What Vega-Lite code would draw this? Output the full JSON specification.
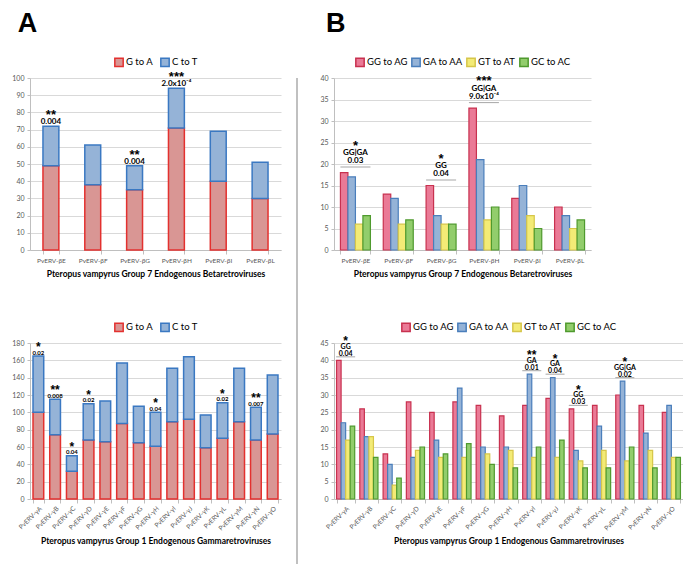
{
  "$schema": "https://vega.github.io/schema/vega-lite/v6.json",
  "background": "white",
  "padding": {"left": 11, "top": 0, "right": 0, "bottom": 0},
  "config": {
    "font": "Lato",
    "view": {"stroke": null},
    "axis": {"labelFont": "Lato", "titleFont": "Lato", "labelColor": "#595959", "titleColor": "#000000", "domainColor": "#bfbfbf", "tickColor": "#bfbfbf", "gridColor": "#d9d9d9"},
    "axisY": {"grid": true, "labelOverlap": false, "labelFontSize": 7, "tickSize": 3, "titlePadding": 3, "labelPadding": 3, "titleFontSize": 10, "titleFontWeight": "bold", "title": "Total mutations"},
    "axisX": {"grid": false, "labelFontSize": 6.5, "tickBand": "extent", "tickSize": 4, "titleFontSize": 8.5, "titleFontWeight": "bold", "labelOverlap": false},
    "legend": {"orient": "top", "direction": "horizontal", "labelFont": "Lato", "labelFontSize": 9.5, "labelColor": "#000000", "symbolType": "square", "symbolSize": 70, "symbolStrokeWidth": 1.5, "columnPadding": 0, "labelOffset": 2, "offset": 8, "title": null, "layout": {"top": {"anchor": "middle"}}},
    "title": {"font": "Liberation Sans", "fontSize": 27, "fontWeight": "bold", "anchor": "start", "color": "#000000", "lineHeight": 10}
  },
  "datasets": {
    "betaA": [
      {"virus": "PvERV-βE", "type": "G to A", "count": 49}, {"virus": "PvERV-βE", "type": "C to T", "count": 23},
      {"virus": "PvERV-βF", "type": "G to A", "count": 38}, {"virus": "PvERV-βF", "type": "C to T", "count": 23},
      {"virus": "PvERV-βG", "type": "G to A", "count": 35}, {"virus": "PvERV-βG", "type": "C to T", "count": 14},
      {"virus": "PvERV-βH", "type": "G to A", "count": 71}, {"virus": "PvERV-βH", "type": "C to T", "count": 23},
      {"virus": "PvERV-βI", "type": "G to A", "count": 40}, {"virus": "PvERV-βI", "type": "C to T", "count": 29},
      {"virus": "PvERV-βL", "type": "G to A", "count": 30}, {"virus": "PvERV-βL", "type": "C to T", "count": 21}
    ],
    "betaAnnA": [
      {"virus": "PvERV-βE", "stars": "**", "p": "0.004", "count": 72},
      {"virus": "PvERV-βG", "stars": "**", "p": "0.004", "count": 49},
      {"virus": "PvERV-βH", "stars": "***", "p": "2.0x10⁻⁴", "count": 94}
    ],
    "gammaA": [
      {"virus": "PvERV-γA", "type": "G to A", "count": 100}, {"virus": "PvERV-γA", "type": "C to T", "count": 65},
      {"virus": "PvERV-γB", "type": "G to A", "count": 74}, {"virus": "PvERV-γB", "type": "C to T", "count": 41},
      {"virus": "PvERV-γC", "type": "G to A", "count": 32}, {"virus": "PvERV-γC", "type": "C to T", "count": 18},
      {"virus": "PvERV-γD", "type": "G to A", "count": 68}, {"virus": "PvERV-γD", "type": "C to T", "count": 42},
      {"virus": "PvERV-γE", "type": "G to A", "count": 66}, {"virus": "PvERV-γE", "type": "C to T", "count": 47},
      {"virus": "PvERV-γF", "type": "G to A", "count": 87}, {"virus": "PvERV-γF", "type": "C to T", "count": 70},
      {"virus": "PvERV-γG", "type": "G to A", "count": 65}, {"virus": "PvERV-γG", "type": "C to T", "count": 42},
      {"virus": "PvERV-γH", "type": "G to A", "count": 61}, {"virus": "PvERV-γH", "type": "C to T", "count": 39},
      {"virus": "PvERV-γI", "type": "G to A", "count": 89}, {"virus": "PvERV-γI", "type": "C to T", "count": 62},
      {"virus": "PvERV-γJ", "type": "G to A", "count": 92}, {"virus": "PvERV-γJ", "type": "C to T", "count": 72},
      {"virus": "PvERV-γK", "type": "G to A", "count": 59}, {"virus": "PvERV-γK", "type": "C to T", "count": 38},
      {"virus": "PvERV-γL", "type": "G to A", "count": 70}, {"virus": "PvERV-γL", "type": "C to T", "count": 41},
      {"virus": "PvERV-γM", "type": "G to A", "count": 89}, {"virus": "PvERV-γM", "type": "C to T", "count": 62},
      {"virus": "PvERV-γN", "type": "G to A", "count": 68}, {"virus": "PvERV-γN", "type": "C to T", "count": 38},
      {"virus": "PvERV-γO", "type": "G to A", "count": 75}, {"virus": "PvERV-γO", "type": "C to T", "count": 68}
    ],
    "gammaAnnA": [
      {"virus": "PvERV-γA", "stars": "*", "p": "0.02", "count": 165},
      {"virus": "PvERV-γB", "stars": "**", "p": "0.008", "count": 115},
      {"virus": "PvERV-γC", "stars": "*", "p": "0.04", "count": 50},
      {"virus": "PvERV-γD", "stars": "*", "p": "0.02", "count": 110},
      {"virus": "PvERV-γH", "stars": "*", "p": "0.04", "count": 100},
      {"virus": "PvERV-γL", "stars": "*", "p": "0.02", "count": 111},
      {"virus": "PvERV-γN", "stars": "**", "p": "0.007", "count": 106}
    ],
    "betaB": [
      {"virus": "PvERV-βE", "mutation": "GG to AG", "count": 18}, {"virus": "PvERV-βE", "mutation": "GA to AA", "count": 17}, {"virus": "PvERV-βE", "mutation": "GT to AT", "count": 6}, {"virus": "PvERV-βE", "mutation": "GC to AC", "count": 8},
      {"virus": "PvERV-βF", "mutation": "GG to AG", "count": 13}, {"virus": "PvERV-βF", "mutation": "GA to AA", "count": 12}, {"virus": "PvERV-βF", "mutation": "GT to AT", "count": 6}, {"virus": "PvERV-βF", "mutation": "GC to AC", "count": 7},
      {"virus": "PvERV-βG", "mutation": "GG to AG", "count": 15}, {"virus": "PvERV-βG", "mutation": "GA to AA", "count": 8}, {"virus": "PvERV-βG", "mutation": "GT to AT", "count": 6}, {"virus": "PvERV-βG", "mutation": "GC to AC", "count": 6},
      {"virus": "PvERV-βH", "mutation": "GG to AG", "count": 33}, {"virus": "PvERV-βH", "mutation": "GA to AA", "count": 21}, {"virus": "PvERV-βH", "mutation": "GT to AT", "count": 7}, {"virus": "PvERV-βH", "mutation": "GC to AC", "count": 10},
      {"virus": "PvERV-βI", "mutation": "GG to AG", "count": 12}, {"virus": "PvERV-βI", "mutation": "GA to AA", "count": 15}, {"virus": "PvERV-βI", "mutation": "GT to AT", "count": 8}, {"virus": "PvERV-βI", "mutation": "GC to AC", "count": 5},
      {"virus": "PvERV-βL", "mutation": "GG to AG", "count": 10}, {"virus": "PvERV-βL", "mutation": "GA to AA", "count": 8}, {"virus": "PvERV-βL", "mutation": "GT to AT", "count": 5}, {"virus": "PvERV-βL", "mutation": "GC to AC", "count": 7}
    ],
    "betaAnnB": [
      {"virus": "PvERV-βE", "stars": "*", "label": "GG|GA", "p": "0.03", "count": 18},
      {"virus": "PvERV-βG", "stars": "*", "label": "GG", "p": "0.04", "count": 15},
      {"virus": "PvERV-βH", "stars": "***", "label": "GG|GA", "p": "9.0x10⁻⁴", "count": 33}
    ],
    "gammaB": [
      {"virus": "PvERV-γA", "mutation": "GG to AG", "count": 40}, {"virus": "PvERV-γA", "mutation": "GA to AA", "count": 22}, {"virus": "PvERV-γA", "mutation": "GT to AT", "count": 17}, {"virus": "PvERV-γA", "mutation": "GC to AC", "count": 21},
      {"virus": "PvERV-γB", "mutation": "GG to AG", "count": 26}, {"virus": "PvERV-γB", "mutation": "GA to AA", "count": 18}, {"virus": "PvERV-γB", "mutation": "GT to AT", "count": 18}, {"virus": "PvERV-γB", "mutation": "GC to AC", "count": 12},
      {"virus": "PvERV-γC", "mutation": "GG to AG", "count": 13}, {"virus": "PvERV-γC", "mutation": "GA to AA", "count": 10}, {"virus": "PvERV-γC", "mutation": "GT to AT", "count": 4}, {"virus": "PvERV-γC", "mutation": "GC to AC", "count": 6},
      {"virus": "PvERV-γD", "mutation": "GG to AG", "count": 28}, {"virus": "PvERV-γD", "mutation": "GA to AA", "count": 12}, {"virus": "PvERV-γD", "mutation": "GT to AT", "count": 14}, {"virus": "PvERV-γD", "mutation": "GC to AC", "count": 15},
      {"virus": "PvERV-γE", "mutation": "GG to AG", "count": 25}, {"virus": "PvERV-γE", "mutation": "GA to AA", "count": 17}, {"virus": "PvERV-γE", "mutation": "GT to AT", "count": 12}, {"virus": "PvERV-γE", "mutation": "GC to AC", "count": 13},
      {"virus": "PvERV-γF", "mutation": "GG to AG", "count": 28}, {"virus": "PvERV-γF", "mutation": "GA to AA", "count": 32}, {"virus": "PvERV-γF", "mutation": "GT to AT", "count": 12}, {"virus": "PvERV-γF", "mutation": "GC to AC", "count": 16},
      {"virus": "PvERV-γG", "mutation": "GG to AG", "count": 27}, {"virus": "PvERV-γG", "mutation": "GA to AA", "count": 15}, {"virus": "PvERV-γG", "mutation": "GT to AT", "count": 13}, {"virus": "PvERV-γG", "mutation": "GC to AC", "count": 10},
      {"virus": "PvERV-γH", "mutation": "GG to AG", "count": 24}, {"virus": "PvERV-γH", "mutation": "GA to AA", "count": 15}, {"virus": "PvERV-γH", "mutation": "GT to AT", "count": 14}, {"virus": "PvERV-γH", "mutation": "GC to AC", "count": 9},
      {"virus": "PvERV-γI", "mutation": "GG to AG", "count": 27}, {"virus": "PvERV-γI", "mutation": "GA to AA", "count": 36}, {"virus": "PvERV-γI", "mutation": "GT to AT", "count": 12}, {"virus": "PvERV-γI", "mutation": "GC to AC", "count": 15},
      {"virus": "PvERV-γJ", "mutation": "GG to AG", "count": 29}, {"virus": "PvERV-γJ", "mutation": "GA to AA", "count": 35}, {"virus": "PvERV-γJ", "mutation": "GT to AT", "count": 12}, {"virus": "PvERV-γJ", "mutation": "GC to AC", "count": 17},
      {"virus": "PvERV-γK", "mutation": "GG to AG", "count": 26}, {"virus": "PvERV-γK", "mutation": "GA to AA", "count": 14}, {"virus": "PvERV-γK", "mutation": "GT to AT", "count": 11}, {"virus": "PvERV-γK", "mutation": "GC to AC", "count": 9},
      {"virus": "PvERV-γL", "mutation": "GG to AG", "count": 27}, {"virus": "PvERV-γL", "mutation": "GA to AA", "count": 21}, {"virus": "PvERV-γL", "mutation": "GT to AT", "count": 14}, {"virus": "PvERV-γL", "mutation": "GC to AC", "count": 9},
      {"virus": "PvERV-γM", "mutation": "GG to AG", "count": 30}, {"virus": "PvERV-γM", "mutation": "GA to AA", "count": 34}, {"virus": "PvERV-γM", "mutation": "GT to AT", "count": 11}, {"virus": "PvERV-γM", "mutation": "GC to AC", "count": 15},
      {"virus": "PvERV-γN", "mutation": "GG to AG", "count": 27}, {"virus": "PvERV-γN", "mutation": "GA to AA", "count": 19}, {"virus": "PvERV-γN", "mutation": "GT to AT", "count": 14}, {"virus": "PvERV-γN", "mutation": "GC to AC", "count": 9},
      {"virus": "PvERV-γO", "mutation": "GG to AG", "count": 25}, {"virus": "PvERV-γO", "mutation": "GA to AA", "count": 27}, {"virus": "PvERV-γO", "mutation": "GT to AT", "count": 12}, {"virus": "PvERV-γO", "mutation": "GC to AC", "count": 12}
    ],
    "gammaAnnB": [
      {"virus": "PvERV-γA", "stars": "*", "label": "GG", "p": "0.04", "count": 40},
      {"virus": "PvERV-γI", "stars": "**", "label": "GA", "p": "0.01", "count": 36},
      {"virus": "PvERV-γJ", "stars": "*", "label": "GA", "p": "0.04", "count": 35},
      {"virus": "PvERV-γK", "stars": "*", "label": "GG", "p": "0.03", "count": 26},
      {"virus": "PvERV-γM", "stars": "*", "label": "GG|GA", "p": "0.02", "count": 34}
    ],
    "sep": [{"s": 1}]
  },
  "spacing": 15,
  "hconcat": [
    {
      "title": {"text": ["", "A"], "dx": 6, "offset": 19},
      "spacing": 44,
      "resolve": {"scale": {"fill": "independent", "stroke": "independent", "x": "independent", "y": "independent"}, "legend": {"fill": "independent", "stroke": "independent"}},
      "vconcat": [
        {
          "width": 251, "height": 172,
          "encoding": {
            "x": {"field": "virus", "type": "nominal", "scale": {"domain": ["PvERV-βE", "PvERV-βF", "PvERV-βG", "PvERV-βH", "PvERV-βI", "PvERV-βL"], "paddingInner": 0.62, "paddingOuter": 0.31},
              "axis": {"title": "Pteropus vampyrus Group 7 Endogenous Betaretroviruses", "labelAngle": 0, "labelPadding": 3, "titlePadding": 6}},
            "y": {"field": "count", "type": "quantitative", "scale": {"domain": [0, 100]},
              "axis": {"values": [0, 10, 20, 30, 40, 50, 60, 70, 80, 90, 100]}}
          },
          "layer": [
            {
              "data": {"name": "betaA"},
              "mark": {"type": "bar", "strokeWidth": 1.5},
              "encoding": {
                "fill": {"field": "type", "type": "nominal", "scale": {"domain": ["G to A", "C to T"], "range": ["#d99694", "#95b3d7"]}, "legend": {"columnPadding": 3}},
                "stroke": {"field": "type", "type": "nominal", "scale": {"domain": ["G to A", "C to T"], "range": ["#e3312f", "#3a78c2"]}, "legend": {"columnPadding": 3}},
                "order": {"field": "type", "sort": "descending"}
              }
            },
            {
              "data": {"name": "betaAnnA"},
              "mark": {"type": "text", "font": "Liberation Sans", "fontWeight": "bold", "fontSize": 13, "dy": -7, "baseline": "alphabetic"},
              "encoding": {"text": {"field": "stars"}}
            },
            {
              "data": {"name": "betaAnnA"},
              "mark": {"type": "text", "font": "Lato", "fontWeight": "bold", "fontSize": 8, "dy": -2, "baseline": "alphabetic"},
              "encoding": {"text": {"field": "p"}}
            }
          ]
        },
        {
          "width": 251, "height": 156,
          "encoding": {
            "x": {"field": "virus", "type": "nominal", "scale": {"domain": ["PvERV-γA", "PvERV-γB", "PvERV-γC", "PvERV-γD", "PvERV-γE", "PvERV-γF", "PvERV-γG", "PvERV-γH", "PvERV-γI", "PvERV-γJ", "PvERV-γK", "PvERV-γL", "PvERV-γM", "PvERV-γN", "PvERV-γO"], "paddingInner": 0.36, "paddingOuter": 0.18},
              "axis": {"title": "Pteropus vampyrus Group 1 Endogenous Gammaretroviruses", "labelAngle": -45, "labelPadding": 2, "titlePadding": 5}},
            "y": {"field": "count", "type": "quantitative", "scale": {"domain": [0, 180]},
              "axis": {"values": [0, 20, 40, 60, 80, 100, 120, 140, 160, 180]}}
          },
          "layer": [
            {
              "data": {"name": "gammaA"},
              "mark": {"type": "bar", "strokeWidth": 1.5},
              "encoding": {
                "fill": {"field": "type", "type": "nominal", "scale": {"domain": ["G to A", "C to T"], "range": ["#d99694", "#95b3d7"]}, "legend": {"columnPadding": 3}},
                "stroke": {"field": "type", "type": "nominal", "scale": {"domain": ["G to A", "C to T"], "range": ["#e3312f", "#3a78c2"]}, "legend": {"columnPadding": 3}},
                "order": {"field": "type", "sort": "descending"}
              }
            },
            {
              "data": {"name": "gammaAnnA"},
              "mark": {"type": "text", "font": "Liberation Sans", "fontWeight": "bold", "fontSize": 12, "dy": -5, "baseline": "alphabetic"},
              "encoding": {"text": {"field": "stars"}}
            },
            {
              "data": {"name": "gammaAnnA"},
              "mark": {"type": "text", "font": "Lato", "fontWeight": "bold", "fontSize": 6, "dy": -1.5, "baseline": "alphabetic"},
              "encoding": {"text": {"field": "p"}}
            }
          ]
        }
      ]
    },
    {
      "spacing": 21,
      "hconcat": [
        {
          "width": 2, "height": 564,
          "data": {"name": "sep"},
          "mark": {"type": "rule", "color": "#c0c0c0", "strokeWidth": 2},
          "encoding": {"y": {"datum": 0, "type": "quantitative", "scale": {"domain": [0, 1]}, "axis": null}, "y2": {"datum": 1}}
        },
        {
          "title": {"text": ["", "B"], "dx": 6, "offset": 19},
          "spacing": 44,
          "resolve": {"scale": {"fill": "independent", "stroke": "independent", "x": "independent", "y": "independent", "xOffset": "independent"}, "legend": {"fill": "independent", "stroke": "independent"}},
          "vconcat": [
            {
              "width": 257, "height": 172,
              "encoding": {
                "x": {"field": "virus", "type": "nominal", "scale": {"domain": ["PvERV-βE", "PvERV-βF", "PvERV-βG", "PvERV-βH", "PvERV-βI", "PvERV-βL"], "paddingInner": 0.3, "paddingOuter": 0.15},
                  "axis": {"title": "Pteropus vampyrus Group 7 Endogenous Betaretroviruses", "labelAngle": 0, "labelPadding": 3, "titlePadding": 6}},
                "y": {"field": "count", "type": "quantitative", "stack": null, "scale": {"domain": [0, 40]},
                  "axis": {"values": [0, 5, 10, 15, 20, 25, 30, 35, 40]}}
              },
              "layer": [
                {
                  "data": {"name": "betaB"},
                  "mark": {"type": "bar", "strokeWidth": 1.2},
                  "encoding": {
                    "xOffset": {"field": "mutation", "type": "nominal", "scale": {"domain": ["GG to AG", "GA to AA", "GT to AT", "GC to AC"]}},
                    "fill": {"field": "mutation", "type": "nominal", "scale": {"domain": ["GG to AG", "GA to AA", "GT to AT", "GC to AC"], "range": ["#ea7a96", "#95b3d7", "#f3eb76", "#92cd6c"]}},
                    "stroke": {"field": "mutation", "type": "nominal", "scale": {"domain": ["GG to AG", "GA to AA", "GT to AT", "GC to AC"], "range": ["#c8314f", "#4a7ebb", "#d6c64a", "#4f9a2e"]}}
                  }
                },
                {
                  "data": {"name": "betaAnnB"},
                  "mark": {"type": "tick", "size": 30, "thickness": 1, "color": "#808080", "yOffset": -5.5}
                },
                {
                  "data": {"name": "betaAnnB"},
                  "mark": {"type": "text", "font": "Liberation Sans", "fontWeight": "bold", "fontSize": 13, "dy": -23, "baseline": "alphabetic"},
                  "encoding": {"text": {"field": "stars"}}
                },
                {
                  "data": {"name": "betaAnnB"},
                  "mark": {"type": "text", "font": "Lato", "fontWeight": "bold", "fontSize": 8, "dy": -17.5, "baseline": "alphabetic"},
                  "encoding": {"text": {"field": "label"}}
                },
                {
                  "data": {"name": "betaAnnB"},
                  "mark": {"type": "text", "font": "Lato", "fontWeight": "bold", "fontSize": 8, "dy": -9.5, "baseline": "alphabetic"},
                  "encoding": {"text": {"field": "p"}}
                }
              ]
            },
            {
              "width": 349, "height": 156,
              "encoding": {
                "x": {"field": "virus", "type": "nominal", "scale": {"domain": ["PvERV-γA", "PvERV-γB", "PvERV-γC", "PvERV-γD", "PvERV-γE", "PvERV-γF", "PvERV-γG", "PvERV-γH", "PvERV-γI", "PvERV-γJ", "PvERV-γK", "PvERV-γL", "PvERV-γM", "PvERV-γN", "PvERV-γO"], "paddingInner": 0.22, "paddingOuter": 0.11},
                  "axis": {"title": "Pteropus vampyrus Group 1 Endogenous Gammaretroviruses", "labelAngle": -45, "labelPadding": 2, "titlePadding": 5}},
                "y": {"field": "count", "type": "quantitative", "stack": null, "scale": {"domain": [0, 45]},
                  "axis": {"values": [0, 5, 10, 15, 20, 25, 30, 35, 40, 45]}}
              },
              "layer": [
                {
                  "data": {"name": "gammaB"},
                  "mark": {"type": "bar", "strokeWidth": 1.2},
                  "encoding": {
                    "xOffset": {"field": "mutation", "type": "nominal", "scale": {"domain": ["GG to AG", "GA to AA", "GT to AT", "GC to AC"]}},
                    "fill": {"field": "mutation", "type": "nominal", "scale": {"domain": ["GG to AG", "GA to AA", "GT to AT", "GC to AC"], "range": ["#ea7a96", "#95b3d7", "#f3eb76", "#92cd6c"]}},
                    "stroke": {"field": "mutation", "type": "nominal", "scale": {"domain": ["GG to AG", "GA to AA", "GT to AT", "GC to AC"], "range": ["#c8314f", "#4a7ebb", "#d6c64a", "#4f9a2e"]}}
                  }
                },
                {
                  "data": {"name": "gammaAnnB"},
                  "mark": {"type": "tick", "size": 19, "thickness": 1, "color": "#808080", "yOffset": -3.5}
                },
                {
                  "data": {"name": "gammaAnnB"},
                  "mark": {"type": "text", "font": "Liberation Sans", "fontWeight": "bold", "fontSize": 12, "dy": -15, "baseline": "alphabetic"},
                  "encoding": {"text": {"field": "stars"}}
                },
                {
                  "data": {"name": "gammaAnnB"},
                  "mark": {"type": "text", "font": "Lato", "fontWeight": "bold", "fontSize": 7, "dy": -11.5, "baseline": "alphabetic"},
                  "encoding": {"text": {"field": "label"}}
                },
                {
                  "data": {"name": "gammaAnnB"},
                  "mark": {"type": "text", "font": "Lato", "fontWeight": "bold", "fontSize": 7, "dy": -4.5, "baseline": "alphabetic"},
                  "encoding": {"text": {"field": "p"}}
                }
              ]
            }
          ]
        }
      ]
    }
  ]
}
